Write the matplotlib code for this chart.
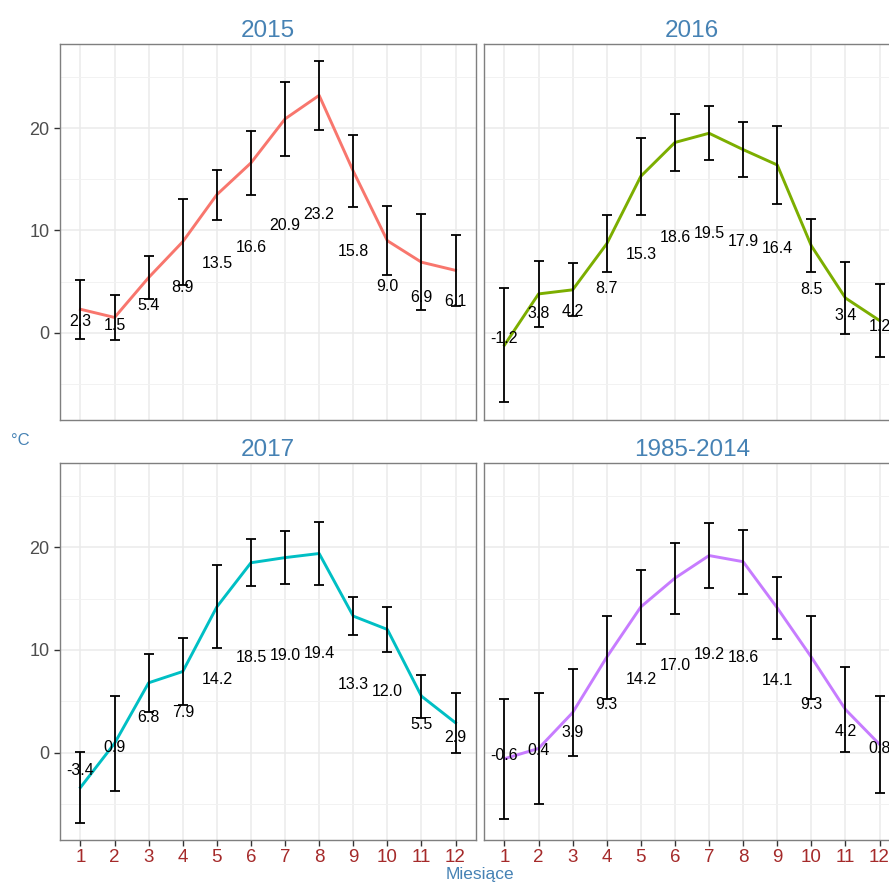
import matplotlib
matplotlib.use("Agg")
import matplotlib.pyplot as plt
import numpy as np

# Dane: średnie miesięczne temperatury i odchylenia
months = list(range(1, 13))
panel_titles = ["2015", "2016", "2017", "1985-2014"]
line_colors = ["#F8766D", "#7CAE00", "#00BFC4", "#C77CFF"]

temp_2015 = [2.3, 1.5, 5.4, 8.9, 13.5, 16.6, 20.9, 23.2, 15.8, 9.0, 6.9, 6.1]
sd_2015 = [2.9, 2.2, 2.1, 4.2, 2.45, 3.15, 3.6, 3.35, 3.5, 3.35, 4.7, 3.5]

temp_2016 = [-1.2, 3.8, 4.2, 8.7, 15.3, 18.6, 19.5, 17.9, 16.4, 8.5, 3.4, 1.2]
sd_2016 = [5.6, 3.2, 2.6, 2.8, 3.75, 2.8, 2.65, 2.7, 3.8, 2.6, 3.5, 3.6]

temp_2017 = [-3.4, 0.9, 6.8, 7.9, 14.2, 18.5, 19.0, 19.4, 13.3, 12.0, 5.5, 2.9]
sd_2017 = [3.45, 4.65, 2.8, 3.25, 4.05, 2.3, 2.55, 3.05, 1.85, 2.2, 2.1, 2.95]

temp_norm = [-0.6, 0.4, 3.9, 9.3, 14.2, 17.0, 19.2, 18.6, 14.1, 9.3, 4.2, 0.8]
sd_norm = [5.85, 5.4, 4.2, 4.05, 3.6, 3.45, 3.2, 3.1, 3.0, 4.05, 4.1, 4.7]

temps = [temp_2015, temp_2016, temp_2017, temp_norm]
sds = [sd_2015, sd_2016, sd_2017, sd_norm]

TITLE_COLOR = "#4682B4"
XTICK_COLOR = "#A52A2A"

plt.rcParams['font.family'] = ['Liberation Sans', 'DejaVu Sans']

fig = plt.figure(figsize=(8.89, 8.82), dpi=100)
W, H = 889.0, 882.0

# pozycje paneli w pikselach: (lewo, góra, prawo, dół)
boxes = [(60, 44, 476, 420), (484, 44, 900, 420),
         (60, 463, 476, 840), (484, 463, 900, 840)]

# wspólna skala y (facet_wrap z ustalonymi skalami)
all_lo = min(min(np.array(t) - np.array(s)) for t, s in zip(temps, sds))
all_hi = max(max(np.array(t) + np.array(s)) for t, s in zip(temps, sds))
pad = (all_hi - all_lo) * 0.05

for i, (l, t, r, b) in enumerate(boxes):
    ax = fig.add_axes([l / W, 1 - b / H, (r - l) / W, (b - t) / H])
    y = np.array(temps[i])
    e = np.array(sds[i])

    ax.plot(months, y, color=line_colors[i], lw=2.1, zorder=3)
    ax.errorbar(months, y, yerr=e, fmt='none', ecolor='black', elinewidth=1.3,
                capsize=3.8, capthick=1.3, zorder=4)
    for m, v in zip(months, y):
        ax.text(m, v / 2, f"{v:.1f}", ha='center', va='center', fontsize=11.5,
                color='black', zorder=5)

    ax.set_xlim(0.4, 12.6)
    ax.set_ylim(all_lo - pad, all_hi + pad)
    ax.set_xticks(months)
    ax.set_yticks([0, 10, 20])
    ax.set_yticks([-5, 5, 15, 25], minor=True)
    ax.grid(True, which='major', color='#EBEBEB', lw=1.1, zorder=0)
    ax.grid(True, which='minor', axis='y', color='#F2F2F2', lw=0.7, zorder=0)
    ax.set_axisbelow(True)
    for sp in ax.spines.values():
        sp.set_color('#7F7F7F')
        sp.set_linewidth(1.0)

    ax.tick_params(which='minor', length=0)
    ax.tick_params(axis='both', which='major', color='#333333', length=4, width=1)
    ax.tick_params(axis='y', labelsize=13, labelcolor='#4D4D4D')
    ax.tick_params(axis='x', labelsize=13.5, labelcolor=XTICK_COLOR, pad=2.5)
    if i in (1, 3):
        ax.tick_params(axis='y', left=False, labelleft=False)
    if i in (0, 1):
        ax.tick_params(axis='x', bottom=False, labelbottom=False)

    ax.set_title(panel_titles[i], color=TITLE_COLOR, fontsize=17.5, pad=5)

fig.text(480 / W, 1 - 875 / H, "Miesiące", color=TITLE_COLOR, fontsize=12.5,
         ha='center', va='center')
fig.text(20 / W, 1 - 440 / H, "°C", color=TITLE_COLOR, fontsize=12,
         ha='center', va='center')

fig.savefig("out.png", dpi=100)
